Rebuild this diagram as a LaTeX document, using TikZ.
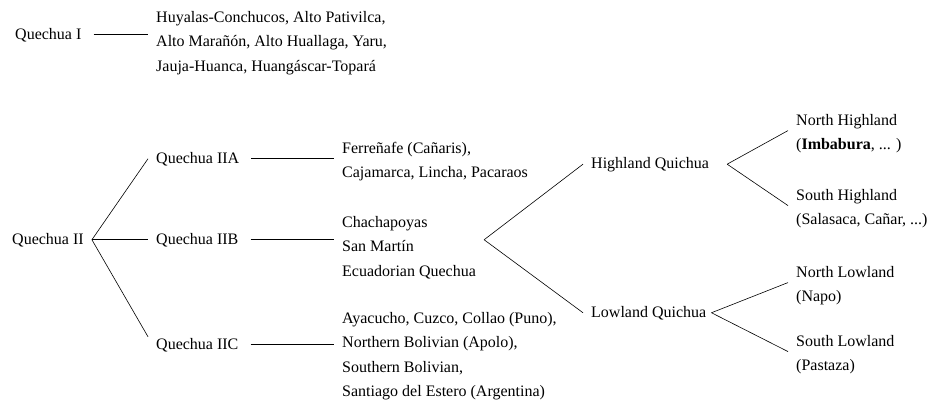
\documentclass[tikz,border=0pt]{standalone}
\usepackage{fontspec}
\setmainfont{Liberation Serif}
\usetikzlibrary{positioning}

\begin{document}
\begin{tikzpicture}[x=1pt, y=-1pt,
    every node/.style={font=\fontsize{16}{24.5}\selectfont, inner xsep=8pt, inner ysep=0pt},
    lang/.style={anchor=base west},
    group/.style={anchor=north west, align=left},
    link/.style={line width=0.6pt},
    gap/.style={link, shorten <=4pt}]
  \useasboundingbox (0,0) rectangle (927,405);

  \node [lang] (q1) at (7,39) {Quechua I};
  \node [group] (g1) at (148,4.85) {\strut Huyalas-Conchucos, Alto Pativilca,\\ Alto Marañón, Alto Huallaga, Yaru,\\ Jauja-Huanca, Huangáscar-Topará};

  \node [lang] (q2) at (4,244) {Quechua II};
  \node [lang] (q2a) at (148,163) {Quechua IIA};
  \node [lang] (q2b) at (148,244) {Quechua IIB};
  \node [lang] (q2c) at (148,349) {Quechua IIC};

  \node [group] (g2a) at (334,135.85) {\strut Ferreñafe (Cañaris),\\ Cajamarca, Lincha, Pacaraos};
  \node [group] (g2b) at (334,209.85) {\strut Chachapoyas\\ San Martín\\ Ecuadorian Quechua};
  \node [group] (g2c) at (334,305.85) {\strut Ayacucho, Cuzco, Collao (Puno),\\ Northern Bolivian (Apolo),\\ Southern Bolivian,\\ Santiago del Estero (Argentina)};

  \node [lang] (hq) at (583,168) {Highland Quichua};
  \node [lang] (lq) at (583,317) {Lowland Quichua};

  \node [group] (nh) at (788,107.85) {\strut North Highland\\ (\textbf{Imbabura}, ... )};
  \node [group] (sh) at (788,182.85) {\strut South Highland\\ (Salasaca, Cañar, ...)};
  \node [group] (nl) at (788,259.85) {\strut North Lowland\\ (Napo)};
  \node [group] (sl) at (788,328.85) {\strut South Lowland\\ (Pastaza)};

  \draw [gap] (q1.east) -- (q1.east -| g1.west);

  \draw [link] (q2.east) -- (q2a.west);
  \draw [link] (q2.east) -- (q2b.west);
  \draw [link] (q2.east) -- ([yshift=8pt]q2c.west);

  \draw [gap] (q2a.east) -- (q2a.east -| g2a.west);
  \draw [gap] (q2b.east) -- (q2b.east -| g2b.west);
  \draw [gap] (q2c.east) -- (q2c.east -| g2c.west);

  \draw [link] (g2b.east |- q2b.east) -- (hq.west);
  \draw [link] (g2b.east |- q2b.east) -- (lq.west);

  \draw [link] ([xshift=10pt]hq.east) -- (nh.west);
  \draw [link] ([xshift=10pt]hq.east) -- (sh.west);
  \draw [link] ([xshift=-3pt]lq.east) -- (nl.west);
  \draw [link] ([xshift=-3pt]lq.east) -- (sl.west);
\end{tikzpicture}
\end{document}
